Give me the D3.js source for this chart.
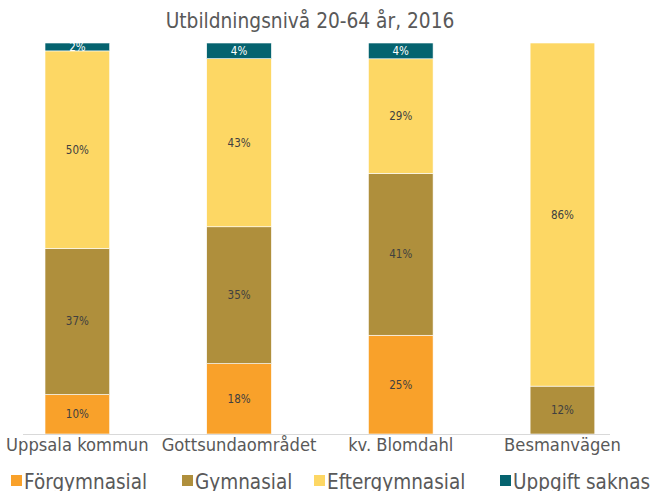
<!DOCTYPE html>
<html>
<head>
<meta charset="utf-8">
<script src="https://cdn.jsdelivr.net/npm/d3@7"></script>
<style>
  body { margin: 0; background: #fff; }
  text { font-family: "DejaVu Sans Condensed", "Roboto", sans-serif; }
</style>
</head>
<body>
<div id="chart"></div>
<script>
var categories = ['Uppsala kommun', 'Gottsundaområdet', 'kv. Blomdahl', 'Besmanvägen'];
var seriesNames = ['Förgymnasial', 'Gymnasial', 'Eftergymnasial', 'Uppgift saknas'];
var forgymnasial = [10, 18, 25, 0];
var gymnasial = [37, 35, 41, 12];
var eftergymnasial = [50, 43, 29, 86];
var uppgiftSaknas = [2, 4, 4, 0];
var colors = ['#F9A12A', '#AF8F3C', '#FDD764', '#05636F'];

var width = 653, height = 491;
var plotTop = 43, plotBottom = 434;

var rows = categories.map(function (c, i) {
  return {
    cat: c,
    'Förgymnasial': forgymnasial[i],
    'Gymnasial': gymnasial[i],
    'Eftergymnasial': eftergymnasial[i],
    'Uppgift saknas': uppgiftSaknas[i]
  };
});

var stack = d3.stack().keys(seriesNames).offset(d3.stackOffsetExpand);
var layers = stack(rows);

var x = d3.scaleBand().domain(categories).range([-3.5, 643.3]).paddingInner(0.6).paddingOuter(0.3);
var y = d3.scaleLinear().domain([0, 1]).range([plotBottom, plotTop]);
var color = d3.scaleOrdinal().domain(seriesNames).range(colors);

var svg = d3.select('#chart').append('svg')
  .attr('width', width)
  .attr('height', height)
  .attr('viewBox', '0 0 ' + width + ' ' + height);

// title
svg.append('text')
  .attr('x', 310).attr('y', 28)
  .attr('text-anchor', 'middle')
  .attr('font-size', 20.7)
  .attr('fill', '#595959')
  .text('Utbildningsnivå 20-64 år, 2016');

var g = svg.selectAll('g.layer').data(layers).enter().append('g')
  .attr('class', 'layer')
  .attr('fill', function (d) { return color(d.key); });

g.selectAll('rect').data(function (d) { return d.map(function (p) { p.key = d.key; return p; }); })
  .enter().append('rect')
  .attr('x', function (d) { return x(d.data.cat); })
  .attr('width', x.bandwidth())
  .attr('y', function (d) { return y(d[1]); })
  .attr('height', function (d) { return y(d[0]) - y(d[1]); })
  .attr('stroke', '#fff')
  .attr('stroke-width', 0.6);

// data labels
g.selectAll('text').data(function (d) { return d.filter(function (p) { return p.data[d.key] > 0; }); })
  .enter().append('text')
  .attr('x', function (d) { return x(d.data.cat) + x.bandwidth() / 2; })
  .attr('y', function (d) { return (y(d[0]) + y(d[1])) / 2 + 4; })
  .attr('text-anchor', 'middle')
  .attr('font-size', 11.5)
  .attr('fill', function (d) { return d.key === 'Uppgift saknas' ? '#fff' : '#404040'; })
  .text(function (d) { return d.data[d.key] + '%'; });

// axis line
svg.append('line')
  .attr('x1', 23).attr('x2', 610)
  .attr('y1', plotBottom + 0.5).attr('y2', plotBottom + 0.5)
  .attr('stroke', '#d9d9d9').attr('stroke-width', 1);

// category labels
svg.selectAll('text.cat').data(categories).enter().append('text')
  .attr('class', 'cat')
  .attr('x', function (d) { return x(d) + x.bandwidth() / 2; })
  .attr('y', 451)
  .attr('text-anchor', 'middle')
  .attr('font-size', 18.2)
  .attr('fill', '#595959')
  .text(function (d) { return d; });

// legend
var legendX = [11, 182, 314, 500];
var lg = svg.selectAll('g.legend').data(seriesNames).enter().append('g')
  .attr('class', 'legend')
  .attr('transform', function (d, i) { return 'translate(' + legendX[i] + ',0)'; });
lg.append('rect')
  .attr('y', 475).attr('width', 11).attr('height', 11)
  .attr('fill', function (d) { return color(d); });
lg.append('text')
  .attr('x', 13).attr('y', 489)
  .attr('font-size', 20.5)
  .attr('fill', '#595959')
  .text(function (d) { return d; });
</script>
</body>
</html>
